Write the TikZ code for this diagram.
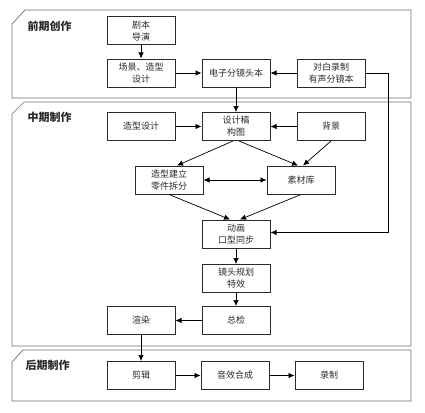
\documentclass[tikz,border=0pt]{standalone}
\usepackage{fontspec}
\setmainfont{Noto Sans CJK SC}
\usepackage{tikz}
\usepackage{xcolor}
\usetikzlibrary{arrows.meta,positioning}
\definecolor{frame}{HTML}{6E6E6E}
\definecolor{ink}{HTML}{2A2A2A}

\begin{document}
\begin{tikzpicture}[x=1pt,y=-1pt,>={Latex[length=6pt,width=5.5pt]},
    box/.style={draw=ink,line width=1pt,minimum width=68pt,minimum height=28pt,
      align=center,inner sep=1pt,font=\fontsize{9}{12}\selectfont,text=ink},
    stage/.style={anchor=west,font=\fontsize{11}{12}\selectfont\bfseries,text=ink},
    panel/.style={draw=frame,line width=0.7pt},
    link/.style={->,line width=0.7pt,black}]
    \useasboundingbox (0,0) rectangle (425,412);
    % three stages
    \draw[panel] (12,24)--(25,10)--(411,10)--(411,98)--(12,98)--cycle;
    \draw[panel] (12,114)--(24,102)--(411,102)--(411,346)--(12,346)--cycle;
    \draw[panel] (12,362)--(23,350)--(411,350)--(411,401)--(12,401)--cycle;
    \node[stage] (pre) at (24,26) {前期创作};
    \node[stage] (mid) at (24,117) {中期制作};
    \node[stage] (post) at (22,365) {后期制作};

    \node[box] (script) at (141,31) {剧本\\导演};
    \node[box] (scene) at (141,73) {场景、造型\\设计};
    \node[box] (board) at (236,73) {电子分镜头本};
    \node[box] (voice) at (331,73) {对白录制\\有声分镜本};
    \node[box] (chardes) at (141,126.5) {造型设计};
    \node[box] (draft) at (236,126.5) {设计稿\\构图};
    \node[box] (bg) at (331,126.5) {背景};
    \node[box] (model) at (169,180) {造型建立\\零件拆分};
    \node[box] (lib) at (301,180) {素材库};
    \node[box] (anim) at (236,234) {动画\\口型同步};
    \node[box] (shot) at (236,278.5) {镜头规划\\特效};
    \node[box] (check) at (236,320.5) {总检};
    \node[box] (render) at (141,320.5) {渲染};
    \node[box] (edit) at (141,375.5) {剪辑};
    \node[box] (sound) at (235,375.5) {音效合成};
    \node[box] (rec) at (329,375.5) {录制};

    \draw[link] (script) -- (scene);
    \draw[link] (scene) -- (board);
    \draw[link] (voice) -- (board);
    \draw[link] (board) -- (draft);
    \draw[link] (voice.east) -- ++(23,0) |- ([yshift=1.5pt]anim.east);
    \draw[link] (chardes) -- (draft);
    \draw[link] (bg) -- (draft);
    \draw[link] ([xshift=-3pt]draft.south) -- ([xshift=8pt]model.north);
    \draw[link] ([xshift=3pt]draft.south) -- ([xshift=-3pt]lib.north);
    \draw[link] (bg.south) -- ([xshift=2pt]lib.north);
    \draw[link,<->] (model) -- (lib);
    \draw[link] (model.south) -- ([xshift=-6pt]anim.north);
    \draw[link] (lib.south) -- ([xshift=4pt]anim.north);
    \draw[link] (anim) -- (shot);
    \draw[link] (shot) -- (check);
    \draw[link] (check) -- (render);
    \draw[link] (render) -- (edit);
    \draw[link] (edit) -- (sound);
    \draw[link] (sound) -- (rec);
\end{tikzpicture}
\end{document}
